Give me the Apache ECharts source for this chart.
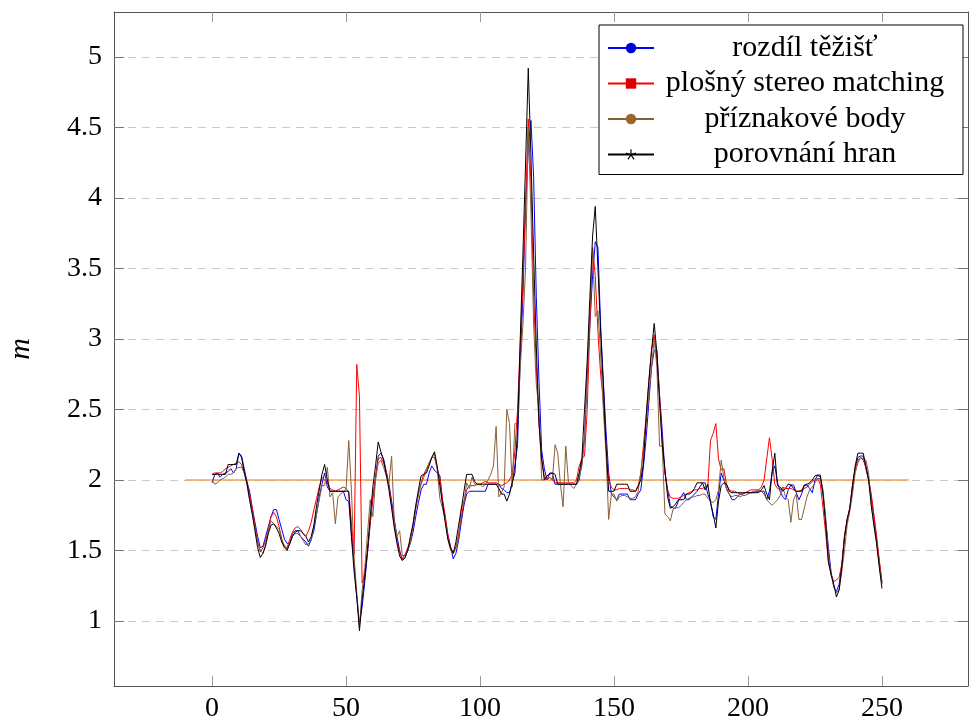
<!DOCTYPE html>
<html>
<head>
<meta charset="utf-8">
<script src="https://cdn.jsdelivr.net/npm/echarts@6/dist/echarts.min.js"></script>
<style>
html,body{margin:0;padding:0;background:#fff;}
#chart{width:970px;height:724px;}
</style>
</head>
<body>
<div id="chart"></div>
<script>
// ---- data (frame index = position in array, 0..250) ----
const seriesNames = ['rozdíl těžišť', 'plošný stereo matching', 'příznakové body', 'porovnání hran'];

const rozdilTezist = [
  1.98, 2.04, 2.05, 2.02, 2.04, 2.05, 2.06, 2.08, 2.05, 2.08,
  2.19, 2.17, 2.08, 1.99, 1.92, 1.80, 1.70, 1.60, 1.52, 1.53,
  1.60, 1.67, 1.74, 1.79, 1.79, 1.72, 1.65, 1.58, 1.55, 1.55,
  1.62, 1.64, 1.64, 1.60, 1.58, 1.56, 1.53, 1.58, 1.64, 1.76,
  1.88, 1.97, 2.05, 1.95, 1.92, 1.92, 1.92, 1.92, 1.92, 1.92,
  1.86, 1.85, 1.62, 1.41, 1.17, 0.98, 1.10, 1.28, 1.48, 1.69,
  1.87, 2.02, 2.17, 2.19, 2.15, 2.06, 1.97, 1.85, 1.72, 1.60,
  1.50, 1.43, 1.45, 1.50, 1.55, 1.63, 1.74, 1.84, 1.93, 1.97,
  1.97, 2.05, 2.10, 2.07, 2.05, 2.03, 1.85, 1.73, 1.61, 1.53,
  1.44, 1.48, 1.57, 1.70, 1.82, 1.90, 1.92, 1.92, 1.92, 1.92,
  1.92, 1.92, 1.92, 1.97, 1.97, 1.97, 1.97, 1.97, 1.94, 1.93,
  1.91, 1.91, 1.98, 2.10, 2.25, 2.85, 3.30, 3.95, 4.35, 4.55,
  4.15, 3.30, 2.70, 2.21, 2.08, 2.00, 2.05, 2.05, 1.97, 1.97,
  1.97, 1.97, 1.97, 1.97, 1.97, 1.97, 1.97, 2.00, 2.12, 2.30,
  2.75, 3.10, 3.45, 3.69, 3.65, 3.10, 2.70, 2.35, 2.05, 1.90,
  1.88, 1.86, 1.90, 1.90, 1.90, 1.90, 1.86, 1.86, 1.86, 1.90,
  1.93, 2.10, 2.30, 2.55, 2.80, 2.92, 2.92, 2.60, 2.35, 2.05,
  1.93, 1.82, 1.80, 1.80, 1.85, 1.88, 1.91, 1.86, 1.86, 1.88,
  1.90, 1.92, 1.95, 1.98, 1.98, 1.90, 1.85, 1.74, 1.72, 1.90,
  2.05, 2.00, 1.94, 1.90, 1.86, 1.86, 1.88, 1.90, 1.90, 1.91,
  1.91, 1.91, 1.91, 1.92, 1.92, 1.92, 1.92, 1.86, 1.92, 2.05,
  2.10, 1.98, 1.92, 1.88, 1.86, 1.93, 1.965, 1.965, 1.91, 1.86,
  1.90, 1.96, 1.965, 1.94, 1.91, 2.00, 2.035, 2.02, 1.90, 1.72,
  1.52, 1.35, 1.24, 1.21, 1.26, 1.40, 1.60, 1.72, 1.80, 1.95,
  2.08, 2.16, 2.17, 2.17, 2.08, 2.00, 1.88, 1.74, 1.58, 1.42,
  1.27
];

const plosnyStereo = [
  2.04, 2.05, 2.05, 2.05, 2.06, 2.08, 2.09, 2.10, 2.11, 2.12,
  2.13, 2.11, 2.05, 1.98, 1.90, 1.80, 1.68, 1.56, 1.49, 1.52,
  1.57, 1.65, 1.74, 1.77, 1.74, 1.67, 1.58, 1.53, 1.52, 1.58,
  1.63, 1.66, 1.67, 1.65, 1.62, 1.60, 1.64, 1.70, 1.79, 1.87,
  1.95, 2.02, 2.00, 1.98, 1.94, 1.93, 1.92, 1.93, 1.94, 1.95,
  1.94, 1.91, 1.70, 1.47, 2.82, 2.59, 1.27, 1.33, 1.50, 1.69,
  1.88, 2.01, 2.15, 2.16, 2.12, 2.06, 1.96, 1.82, 1.68, 1.57,
  1.49, 1.44, 1.47, 1.52, 1.57, 1.68, 1.80, 1.90, 1.98, 2.04,
  2.08, 2.12, 2.16, 2.16, 2.08, 2.02, 1.86, 1.75, 1.61, 1.52,
  1.48, 1.52, 1.62, 1.73, 1.85, 1.93, 1.96, 1.96, 1.96, 1.97,
  1.97, 1.98, 1.99, 1.98, 1.98, 1.98, 1.98, 1.97, 1.96, 1.97,
  1.98, 2.00, 2.04, 2.20, 2.50, 2.95, 3.40, 3.95, 4.56, 4.10,
  3.30, 2.80, 2.40, 2.15, 2.02, 2.00, 2.02, 2.00, 1.98, 1.98,
  1.98, 1.98, 1.98, 1.98, 1.98, 1.98, 2.00, 2.10, 2.15, 2.17,
  2.50, 3.10, 3.65, 3.45, 3.05, 2.75, 2.57, 2.25, 2.00, 1.95,
  1.93, 1.93, 1.94, 1.94, 1.94, 1.94, 1.93, 1.93, 1.92, 1.95,
  2.05, 2.25, 2.45, 2.70, 2.92, 3.03, 2.85, 2.60, 2.25, 2.05,
  1.93, 1.88, 1.87, 1.87, 1.87, 1.88, 1.89, 1.90, 1.91, 1.92,
  1.93, 1.93, 1.94, 1.94, 1.95, 1.95, 2.28, 2.33, 2.40, 2.15,
  2.07, 2.08, 1.97, 1.93, 1.92, 1.92, 1.91, 1.90, 1.90, 1.91,
  1.92, 1.93, 1.93, 1.93, 1.93, 1.95, 2.00, 2.15, 2.30, 2.15,
  1.97, 1.94, 1.93, 1.95, 1.94, 1.94, 1.94, 1.93, 1.92, 1.92,
  1.93, 1.94, 1.95, 1.97, 1.99, 2.00, 2.01, 1.97, 1.80, 1.62,
  1.42, 1.33, 1.28, 1.29, 1.31, 1.40, 1.58, 1.72, 1.80, 1.97,
  2.08, 2.14, 2.16, 2.14, 2.09, 2.01, 1.90, 1.75, 1.60, 1.43,
  1.28
];

const priznakoveBody = [
  2.00, 1.97, 1.98, 2.00, 2.01, 2.02, 2.04, 2.04, 2.05, 2.08,
  2.09, 2.09, 2.05, 1.97, 1.86, 1.76, 1.66, 1.56, 1.50, 1.48,
  1.53, 1.64, 1.71, 1.69, 1.67, 1.65, 1.58, 1.53, 1.51, 1.55,
  1.60, 1.62, 1.62, 1.60, 1.57, 1.54, 1.55, 1.57, 1.68, 1.76,
  1.86, 1.96, 1.96, 2.09, 1.88, 1.91, 1.69, 1.88, 1.90, 1.92,
  1.93, 2.28, 1.93, 1.45, 1.20, 0.96, 1.22, 1.38, 1.62, 1.86,
  1.74, 2.00, 2.12, 2.14, 2.09, 2.03, 1.98, 2.17, 1.70, 1.60,
  1.64, 1.46, 1.47, 1.50, 1.56, 1.67, 1.80, 1.90, 1.97, 2.02,
  2.07, 2.12, 2.16, 2.19, 2.08, 1.87, 1.80, 1.72, 1.58, 1.50,
  1.48, 1.53, 1.59, 1.80, 1.84, 1.98, 1.94, 2.02, 1.97, 1.97,
  1.97, 1.95, 1.97, 2.00, 2.04, 2.10, 2.38, 1.88, 1.91, 1.95,
  2.50, 2.40, 1.95, 2.40, 2.40, 2.80, 3.10, 3.51, 4.50, 3.90,
  3.10, 2.68, 2.50, 2.00, 2.00, 2.01, 2.02, 2.00, 2.25, 2.19,
  1.97, 1.81, 2.24, 1.98, 1.96, 1.94, 1.97, 2.02, 2.10, 2.30,
  2.75, 3.20, 3.63, 3.16, 3.20, 2.90, 2.50, 2.20, 1.72, 1.90,
  1.90, 1.85, 1.88, 1.89, 1.89, 1.88, 1.87, 1.87, 1.88, 1.92,
  2.05, 2.20, 2.40, 2.60, 2.80, 3.00, 2.80, 2.24, 2.24, 1.76,
  1.74, 1.71, 1.79, 1.81, 1.80, 1.82, 1.84, 1.86, 1.87, 1.88,
  1.88, 1.89, 1.89, 1.90, 1.90, 1.87, 1.85, 1.84, 1.86, 1.93,
  2.14, 2.02, 1.93, 1.90, 1.88, 1.89, 1.89, 1.88, 1.89, 1.89,
  1.90, 1.91, 1.92, 1.92, 1.93, 1.92, 1.90, 1.86, 1.84, 1.82,
  1.84, 1.86, 1.89, 1.95, 1.88, 1.86, 1.70, 1.86, 1.90, 1.72,
  1.72, 1.80, 1.88, 1.93, 1.95, 1.98, 2.01, 2.01, 1.93, 1.72,
  1.48, 1.33, 1.25, 1.20, 1.22, 1.35, 1.50, 1.68, 1.78, 1.90,
  2.05, 2.12, 2.16, 2.15, 2.14, 2.05, 1.82, 1.68, 1.55, 1.39,
  1.26
];

const porovnaniHran = [
  2.04, 2.04, 2.04, 2.04, 2.04, 2.04, 2.11, 2.11, 2.11, 2.11,
  2.19, 2.16, 2.06, 1.98, 1.86, 1.76, 1.64, 1.52, 1.45, 1.48,
  1.54, 1.62, 1.68, 1.69, 1.66, 1.62, 1.56, 1.52, 1.50, 1.55,
  1.60, 1.63, 1.64, 1.64, 1.62, 1.60, 1.56, 1.60, 1.68, 1.82,
  1.93, 2.04, 2.11, 2.00, 1.92, 1.92, 1.92, 1.92, 1.92, 1.92,
  1.92, 1.92, 1.60, 1.35, 1.17, 0.93, 1.15, 1.32, 1.50, 1.74,
  1.95, 2.10, 2.27, 2.20, 2.14, 2.04, 1.93, 1.80, 1.66, 1.55,
  1.46, 1.43, 1.45, 1.50, 1.60, 1.69, 1.82, 1.93, 2.03, 2.04,
  2.05, 2.10, 2.16, 2.20, 2.10, 1.96, 1.83, 1.70, 1.58, 1.52,
  1.48, 1.56, 1.68, 1.79, 1.92, 2.04, 2.04, 2.04, 1.99, 1.97,
  1.97, 1.97, 1.97, 1.97, 1.97, 1.97, 1.97, 1.94, 1.90, 1.90,
  1.85, 1.90, 1.98, 2.05, 2.35, 3.00, 3.60, 4.25, 4.92, 4.30,
  3.60, 2.95, 2.40, 2.15, 2.00, 2.03, 2.04, 2.05, 2.04, 1.97,
  1.97, 1.97, 1.97, 1.97, 1.97, 1.97, 1.97, 2.05, 2.15, 2.50,
  2.85, 3.30, 3.73, 3.94, 3.50, 3.05, 2.68, 2.25, 1.92, 1.92,
  1.92, 1.97, 1.97, 1.97, 1.97, 1.97, 1.92, 1.92, 1.92, 1.96,
  2.00, 2.12, 2.45, 2.70, 2.92, 3.11, 2.90, 2.55, 2.25, 2.08,
  1.88, 1.80, 1.81, 1.83, 1.86, 1.86, 1.86, 1.90, 1.90, 1.91,
  1.94, 1.98, 1.98, 1.98, 1.93, 1.97, 1.84, 1.76, 1.66, 1.85,
  1.96, 1.98, 1.97, 1.92, 1.91, 1.91, 1.91, 1.91, 1.91, 1.91,
  1.91, 1.91, 1.91, 1.91, 1.91, 1.93, 1.96, 1.90, 1.86, 2.06,
  2.19, 1.96, 1.95, 1.92, 1.94, 1.97, 1.965, 1.94, 1.92, 1.92,
  1.92, 1.965, 1.97, 1.98, 2.00, 2.03, 2.035, 2.035, 1.90, 1.68,
  1.42, 1.33, 1.26, 1.17, 1.22, 1.38, 1.60, 1.72, 1.80, 1.96,
  2.10, 2.19, 2.19, 2.19, 2.10, 2.00, 1.82, 1.68, 1.55, 1.38,
  1.23
];

const referenceX = [-10, 260];
const referenceY = [2, 2];

const xTicks = [0, 50, 100, 150, 200, 250];
const yTicks = [1, 1.5, 2, 2.5, 3, 3.5, 4, 4.5, 5];

// ---- styling ----
const FONT = '"Liberation Serif", "DejaVu Serif", serif';
const colors = ['#0000ff', '#ff0000', '#8a5f36', '#000000'];
const markerColors = ['#0000dd', '#dd0000', '#9c6530', '#000000'];

function starPath() {
  let d = '';
  for (let k = 0; k < 5; k++) {
    const a = (-90 + 72 * k) * Math.PI / 180;
    const c = Math.cos(a), s = Math.sin(a);
    const px = -s * 1.1, py = c * 1.1;
    d += 'M' + px.toFixed(2) + ',' + py.toFixed(2) +
         'L' + (10 * c + px).toFixed(2) + ',' + (10 * s + py).toFixed(2) +
         'L' + (10 * c - px).toFixed(2) + ',' + (10 * s - py).toFixed(2) +
         'L' + (-px).toFixed(2) + ',' + (-py).toFixed(2) + 'Z';
  }
  return 'path://' + d;
}
const symbols = ['circle', 'rect', 'circle', starPath()];
const valueSets = [rozdilTezist, plosnyStereo, priznakoveBody, porovnaniHran];

const toPairs = arr => arr.map((v, i) => [i, v]);

const chart = echarts.init(document.getElementById('chart'), null, { renderer: 'canvas' });

const X_MIN = -36.6, X_MAX = 282.1, Y_MIN = 0.539, Y_MAX = 5.319;
const axisColor = '#555';

const dataSeries = seriesNames.map((name, i) => ({
  name: name,
  type: 'line',
  data: toPairs(valueSets[i]),
  showSymbol: false,
  symbol: symbols[i],
  symbolSize: 9,
  lineStyle: { width: 1, color: colors[i] },
  itemStyle: { color: markerColors[i], borderColor: colors[i], borderWidth: 0 },
  emphasis: { disabled: true },
  z: 3 + i,
  animation: false
}));

const option = {
  animation: false,
  backgroundColor: '#fff',
  grid: { left: 114, right: 2, top: 12, bottom: 38, show: false, containLabel: false, outerBoundsMode: 'none' },
  legend: {
    data: seriesNames,
    orient: 'vertical',
    left: 599,
    top: 25,
    padding: [8, 12, 5, 8],
    itemWidth: 46,
    itemHeight: 13,
    itemGap: 5.5,
    borderColor: '#000',
    borderWidth: 1,
    backgroundColor: '#fff',
    selectedMode: false,
    z: 10,
    formatter: n => '{c|' + n + '}',
    textStyle: {
      rich: {
        c: { width: 292, align: 'center', fontSize: 30, lineHeight: 30, fontFamily: FONT, color: '#000' }
      }
    }
  },
  xAxis: [
    {
      type: 'value', min: X_MIN, max: X_MAX, position: 'bottom',
      axisLine: { show: true, onZero: false, lineStyle: { color: axisColor, width: 1 } },
      axisTick: { show: true, inside: true, length: 10, customValues: xTicks, lineStyle: { color: '#999' } },
      axisLabel: { show: true, customValues: xTicks, fontSize: 28, fontFamily: FONT, color: '#000', margin: 9 },
      splitLine: { show: false }
    },
    {
      type: 'value', min: X_MIN, max: X_MAX, position: 'top',
      axisLine: { show: true, onZero: false, lineStyle: { color: axisColor, width: 1 } },
      axisTick: { show: true, inside: true, length: 10, customValues: xTicks, lineStyle: { color: '#999' } },
      axisLabel: { show: false },
      splitLine: { show: false }
    }
  ],
  yAxis: [
    {
      type: 'value', min: Y_MIN, max: Y_MAX, position: 'left',
      name: 'm', nameLocation: 'middle', nameGap: 78,
      nameTextStyle: { fontSize: 30, fontStyle: 'italic', fontFamily: FONT, color: '#000' },
      axisLine: { show: true, onZero: false, lineStyle: { color: axisColor, width: 1 } },
      axisTick: { show: true, inside: true, length: 10, customValues: yTicks, lineStyle: { color: '#777' } },
      axisLabel: { show: true, customValues: yTicks, fontSize: 28, fontFamily: FONT, color: '#000', margin: 12 },
      splitLine: { show: true, lineStyle: { color: '#c8c8c8', width: 1, type: [8, 6] } }
    },
    {
      type: 'value', min: Y_MIN, max: Y_MAX, position: 'right',
      axisLine: { show: true, onZero: false, lineStyle: { color: axisColor, width: 1 } },
      axisTick: { show: true, inside: true, length: 10, customValues: yTicks, lineStyle: { color: '#777' } },
      axisLabel: { show: false },
      splitLine: { show: false }
    }
  ],
  series: [
    {
      name: 'reference',
      type: 'line',
      data: referenceX.map((x, i) => [x, referenceY[i]]),
      showSymbol: false,
      symbol: 'none',
      lineStyle: { width: 1.5, color: '#f2a251' },
      silent: true,
      z: 2,
      animation: false
    }
  ].concat(dataSeries)
};

chart.setOption(option);
</script>
</body>
</html>
